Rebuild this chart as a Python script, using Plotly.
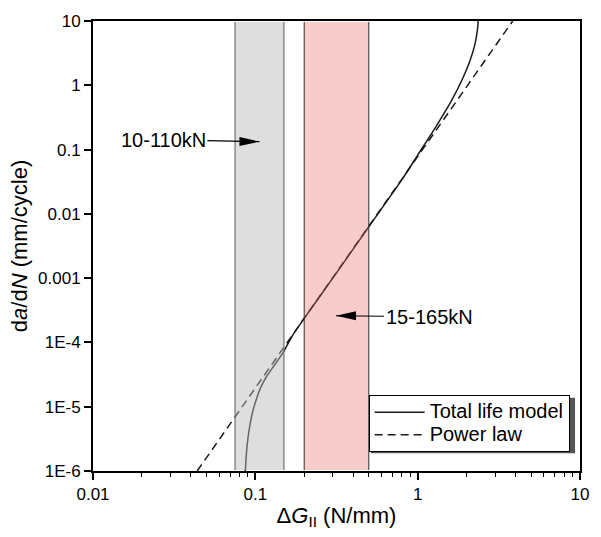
import math
import plotly.graph_objects as go

# ---------------- data ----------------
# Total life model curve (ΔG_II in N/mm, da/dN in mm/cycle)
total_dG = [0.0868, 0.0880, 0.0900, 0.0930, 0.0970, 0.1014, 0.1080, 0.1168,
            0.1300, 0.1485, 0.1700, 0.1960, 0.3000, 0.5000, 0.8000, 1.0000,
            1.3000, 1.6000, 1.9000, 2.1000, 2.2500, 2.3300, 2.3600]
total_dadN = [1.0e-6, 1.8e-6, 3.2e-6, 5.5e-6, 9.0e-6, 1.3e-5, 2.0e-5, 2.9e-5,
              4.3e-5, 7.0e-5, 1.3e-4, 2.2e-4, 1.0e-3, 6.3e-3, 3.4e-2, 8.2e-2,
              2.3e-1, 5.5e-1, 1.3e0, 2.4e0, 4.3e0, 7.0e0, 1.0e1]

# Power law (straight line in log-log space) end points
power_dG = [0.0438, 3.85]
power_dadN = [1.0e-6, 1.0e1]

# Load ranges (ΔG_II bands)
band_grey = [0.075, 0.15]
band_pink = [0.20, 0.50]

# Annotation targets
ann_labels = ["10-110kN", "15-165kN"]
ann_tip_x = [0.106, 0.314]
ann_tip_y = [0.133, 2.6e-4]

# Axis ticks
x_tickvals = [0.01, 0.1, 1, 10]
x_ticktext = ["0.01", "0.1", "1", "10"]
y_tickvals = [1e-6, 1e-5, 1e-4, 1e-3, 1e-2, 1e-1, 1, 10]
y_ticktext = ["1E-6", "1E-5", "1E-4", "0.001", "0.01", "0.1", "1", "10"]

FONT = "Liberation Sans, Arial, sans-serif"
LEG_TXT = '<span style="font-size:20px">{}</span>'

fig = go.Figure()
fig.add_trace(go.Scatter(x=total_dG, y=total_dadN, mode="lines",
                         name=LEG_TXT.format("Total life model"),
                         line=dict(color="#1a1a1a", width=1.5, shape="spline", smoothing=0.6)))
fig.add_trace(go.Scatter(x=power_dG, y=power_dadN, mode="lines",
                         name=LEG_TXT.format("Power law"),
                         line=dict(color="#1a1a1a", width=1.5, dash="8px,5px")))

shapes = []
# band fills (translucent, on top of the lines)
shapes.append(dict(type="rect", xref="x", yref="paper", x0=band_grey[0], x1=band_grey[1],
                   y0=0.002, y1=0.998, fillcolor="rgba(187,187,187,0.48)",
                   line=dict(width=0), layer="above"))
shapes.append(dict(type="rect", xref="x", yref="paper", x0=band_pink[0], x1=band_pink[1],
                   y0=0.002, y1=0.998, fillcolor="rgba(238,109,109,0.35)",
                   line=dict(width=0), layer="above"))
for xv in band_grey:
    shapes.append(dict(type="line", xref="x", yref="paper", x0=xv, x1=xv, y0=0.002, y1=0.998,
                       line=dict(color="#707070", width=1.2), layer="above"))
for xv in band_pink:
    shapes.append(dict(type="line", xref="x", yref="paper", x0=xv, x1=xv, y0=0.002, y1=0.998,
                       line=dict(color="#303030", width=1), layer="above"))

# arrow heads (pixel-sized, anchored at the tips)
shapes.append(dict(type="path", xref="x", yref="y", xsizemode="pixel", ysizemode="pixel",
                   xanchor=ann_tip_x[0], yanchor=ann_tip_y[0],
                   path="M0,0 L-20,4.5 L-20,-4.5 Z", fillcolor="black", line=dict(width=0),
                   layer="above"))
shapes.append(dict(type="path", xref="x", yref="y", xsizemode="pixel", ysizemode="pixel",
                   xanchor=ann_tip_x[1], yanchor=ann_tip_y[1],
                   path="M0,0 L20,4.5 L20,-4.5 Z", fillcolor="black", line=dict(width=0),
                   layer="above"))

# legend shadow (offset box behind the legend)
shapes.append(dict(type="rect", xref="paper", yref="paper",
                   x0=0.5706, x1=0.9898, y0=0.0396, y1=0.1626,
                   fillcolor="#555555", line=dict(width=0), layer="above"))

fig.update_layout(shapes=shapes)

fig.add_annotation(x=math.log10(ann_tip_x[0]), y=math.log10(ann_tip_y[0]), xref="x", yref="y",
                   text=ann_labels[0], showarrow=True, arrowhead=0, arrowwidth=1.2,
                   arrowcolor="black", ax=-96, ay=-2, font=dict(family=FONT, size=20, color="black"))
fig.add_annotation(x=math.log10(ann_tip_x[1]), y=math.log10(ann_tip_y[1]), xref="x", yref="y",
                   text=ann_labels[1], showarrow=True, arrowhead=0, arrowwidth=1.2,
                   arrowcolor="black", ax=93, ay=1, font=dict(family=FONT, size=20, color="black"))

fig.update_layout(
    width=601, height=537,
    margin=dict(l=93, r=19, t=16, b=66),
    paper_bgcolor="white", plot_bgcolor="white",
    font=dict(family=FONT, size=17, color="black"),
    showlegend=True,
    legend=dict(x=0.566, y=0.169, xanchor="left", yanchor="top",
                bgcolor="white", bordercolor="black", borderwidth=1,
                font=dict(family=FONT, size=15, color="black"),
                tracegroupgap=0, itemwidth=50),
    xaxis=dict(type="log", range=[-2, 1], showgrid=False, zeroline=False,
               showline=True, linecolor="black", linewidth=2, mirror=True,
               ticks="outside", ticklen=7, tickwidth=1.5, tickcolor="black",
               tickvals=x_tickvals, ticktext=x_ticktext,
               tickfont=dict(family=FONT, size=17),
               minor=dict(ticks="outside", ticklen=4, tickwidth=1.2, tickcolor="black",
                          dtick="D1", showgrid=False),
               title=dict(text="Δ<i>G</i><sub>II</sub> (N/mm)", font=dict(family=FONT, size=22),
                          standoff=4)),
    yaxis=dict(type="log", range=[-6, 1], showgrid=False, zeroline=False,
               showline=True, linecolor="black", linewidth=2, mirror=True,
               ticks="outside", ticklen=7, tickwidth=1.5, tickcolor="black",
               tickvals=y_tickvals, ticktext=y_ticktext,
               tickfont=dict(family=FONT, size=17),
               title=dict(text="d<i>a</i>/d<i>N</i> (mm/cycle)", font=dict(family=FONT, size=22),
                          standoff=4)),
)

fig.write_html("out.html")
